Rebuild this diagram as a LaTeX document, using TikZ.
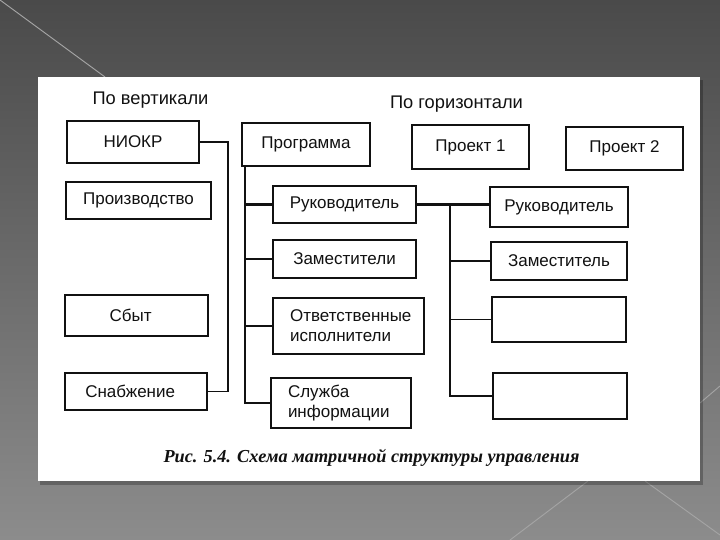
\documentclass[tikz,border=0pt]{standalone}
\usepackage{fontspec}
\setmainfont{Liberation Sans}
\newfontfamily\capfont{Liberation Serif}
\usetikzlibrary{positioning}
\usepackage{xcolor}
\definecolor{slidetop}{HTML}{4A4A4A}
\definecolor{slidebot}{HTML}{8C8C8C}
\definecolor{slideline}{HTML}{A4A4A4}
\definecolor{ink}{HTML}{111111}

\begin{document}
\begin{tikzpicture}[x=0.03cm, y=-0.03cm,
  unit/.style={draw=ink, line width=2pt, fill=white, inner sep=0pt,
               font=\fontsize{14.5}{17}\selectfont, text=ink},
  link/.style={draw=ink, line width=1.2pt},
  heavylink/.style={draw=ink, line width=1.8pt},
  head/.style={font=\fontsize{15.6}{18}\selectfont, text=ink}
]
  \useasboundingbox (0,0) rectangle (720,540);

  % Slide background
  \shade[top color=slidetop, bottom color=slidebot] (0,0) rectangle (720,540);
  \draw[slideline, line width=0.8pt] (0,0) -- (105,77);
  \draw[slideline, line width=0.8pt] (588,481) -- (510,540);
  \draw[slideline, line width=0.8pt] (645,481) -- (720,535);
  \draw[slideline, line width=0.8pt] (700,403) -- (720,386);
  \fill[black, opacity=0.25] (40,80) rectangle (703,485);
  \fill[white] (38,77) rectangle (700,481);

  % Headings
  \node[head] (vert) at (150.5,100) {По вертикали};
  \node[head] (horiz) at (456.5,104) {По горизонтали};

  % Vertical units
  \node[unit, minimum width=3.96cm, minimum height=1.26cm] (niokr) at (133,142) {НИОКР};
  \node[unit, minimum width=4.35cm, minimum height=1.11cm] (proizv) at (138.5,200.5) {Производство};
  \node[unit, minimum width=4.29cm, minimum height=1.23cm] (sbyt) at (136.5,315.5) {\hspace*{-0.35cm}Сбыт};
  \node[unit, minimum width=4.26cm, minimum height=1.11cm] (snab) at (136,391.5) {\hspace*{-0.35cm}Снабжение};

  % Programme column
  \node[unit, minimum width=3.84cm, minimum height=1.29cm] (prog) at (306,144.5) {Программа};
  \node[unit, minimum width=4.29cm, minimum height=1.11cm] (ruk) at (344.5,204.5) {Руководитель};
  \node[unit, minimum width=4.29cm, minimum height=1.14cm] (zam) at (344.5,259) {Заместители};
  \node[unit, minimum width=4.53cm, minimum height=1.68cm, text width=3.5cm, align=left]
    (otv) at (348.5,326) {Ответственные\\исполнители};
  \node[unit, minimum width=4.20cm, minimum height=1.50cm, text width=3.18cm, align=left]
    (sluzh) at (341,403) {Служба\\информации};

  % Project column
  \node[unit, minimum width=3.51cm, minimum height=1.32cm] (proj1) at (470.5,147) {Проект 1};
  \node[unit, minimum width=3.51cm, minimum height=1.29cm] (proj2) at (624.5,148.5) {Проект 2};
  \node[unit, minimum width=4.14cm, minimum height=1.20cm] (ruk2) at (559,207) {Руководитель};
  \node[unit, minimum width=4.08cm, minimum height=1.14cm] (zam2) at (559,261) {Заместитель};
  \node[unit, minimum width=4.02cm, minimum height=1.35cm] (free1) at (559,319.5) {};
  \node[unit, minimum width=4.02cm, minimum height=1.38cm] (free2) at (560,396) {};

  % Left bus
  \draw[link] (niokr.east) -- ++(28,0) |- (snab.east);

  % Programme trunk
  \path (prog.south west) ++(4,0) coordinate (ptrunk);
  \draw[link] (ptrunk) |- (sluzh.west);
  \draw[heavylink] (ptrunk |- ruk.west) -- (ruk.west);
  \draw[link] (ptrunk |- zam.west) -- (zam.west);
  \draw[link] (ptrunk |- otv.west) -- (otv.west);

  % Project trunk
  \draw[heavylink] (ruk.east) -- (ruk.east -| ruk2.west);
  \path (ruk.east) ++(33,0) coordinate (rtrunk);
  \draw[link] (rtrunk) |- (free2.west);
  \draw[link] (rtrunk |- zam2.west) -- (zam2.west);
  \draw[link] (rtrunk |- free1.west) -- (free1.west);

  % Caption
  \node[font=\capfont\bfseries\itshape\fontsize{15.6}{18}\selectfont, text=ink] (cap)
    at (371.5,458) {Рис. 5.4. Схема матричной структуры управления};
\end{tikzpicture}
\end{document}
